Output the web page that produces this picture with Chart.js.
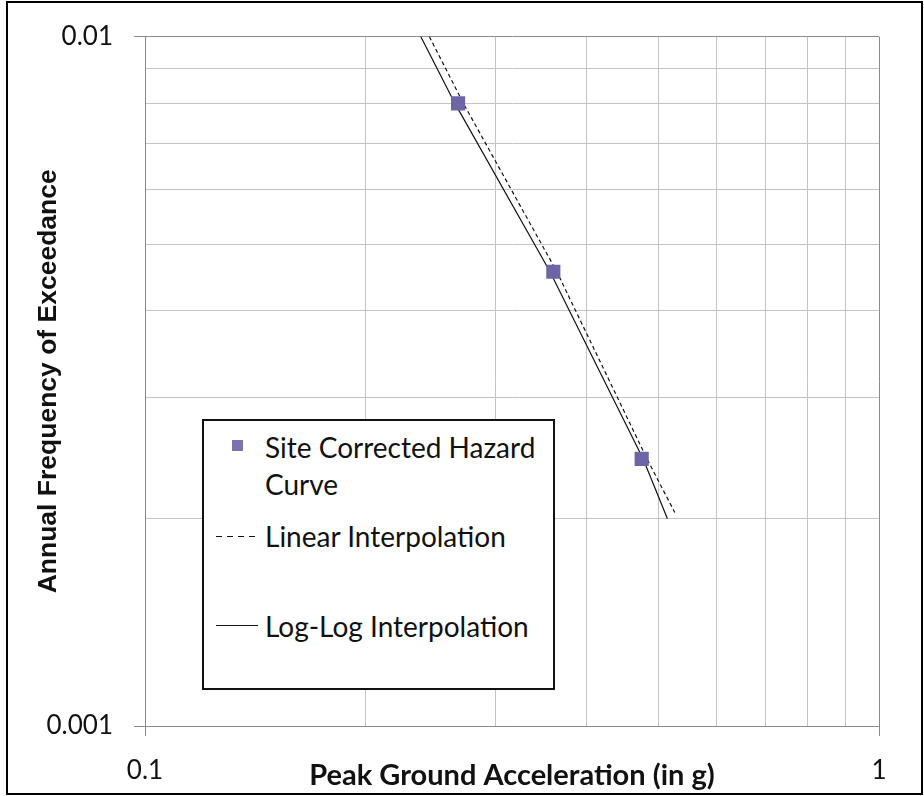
<!DOCTYPE html>
<html>
<head>
<meta charset="utf-8">
<script src="https://cdn.jsdelivr.net/npm/chart.js@4/dist/chart.umd.min.js"></script>
<style>
  html, body { margin: 0; padding: 0; background: #fff; }
  #wrap { position: relative; width: 924px; height: 796px; overflow: hidden; }
  #chart { position: absolute; left: 0; top: 0; }
  #frame { position: absolute; left: 6px; top: 1px; width: 913px; height: 790px; border: 2.5px solid #000; pointer-events: none; }
  #legend { position: absolute; left: 202px; top: 419px; width: 349px; height: 267px; border: 2px solid #111; background: #fff; }
  .lg-text { position: absolute; font-family: Lato, "Open Sans", sans-serif; font-size: 28px; line-height: 36px; color: #111; white-space: nowrap; }
  .lg-mark { position: absolute; width: 11px; height: 11px; background: #7a73b0; }
  .lg-line { position: absolute; width: 42px; height: 1px; }
</style>
</head>
<body>
<div id="wrap">
  <canvas id="chart" width="924" height="796"></canvas>
  <div id="frame"></div>
  <div id="legend"></div>
</div>
<script>
// Site corrected hazard curve points (PGA in g vs annual frequency)
const pga = [0.267, 0.36, 0.475];
const freq = [0.008, 0.00456, 0.00244];

// Linear interpolation (dashed)
const linPga = [0.244, 0.2715, 0.364, 0.483, 0.527];
const linFreq = [0.01, 0.008, 0.00456, 0.00244, 0.00204];

// Log-log interpolation (solid)
const logPga = [0.2375, 0.2644, 0.3563, 0.4772, 0.5148];
const logFreq = [0.01, 0.008, 0.00456, 0.00244, 0.002];

// Grid positions and the decade labels
const xGrid = [0.1, 0.2, 0.3, 0.4, 0.5, 0.6, 0.7, 0.8, 0.9, 1];
const yGrid = [0.001, 0.002, 0.003, 0.004, 0.005, 0.006, 0.007, 0.008, 0.009, 0.01];
const xTickLabels = ['0.1', '1'];
const yTickLabels = ['0.001', '0.01'];
const legendLabels = ['Site Corrected Hazard', 'Curve', 'Linear Interpolation', 'Log-Log Interpolation'];

const MAJOR_GRID = '#8a8a8a';
const MINOR_GRID = '#c4c4c4';
const tickFont = { family: 'Lato, "Open Sans", sans-serif', size: 26 };

function pairs(xs, ys) {
    return xs.map((x, i) => ({ x: x, y: ys[i] }));
}

function labelFor(labels, value) {
    return labels.find(l => Math.abs(parseFloat(l) - value) < value * 1e-6);
}

// Replace the generated log ticks with the plain 1..9 grid
function fixedTicks(values, labels) {
    return function(scale) {
        scale.ticks = values.map(v => ({ value: v, major: !!labelFor(labels, v) }));
    };
}

function tickText(labels) {
    return function(value) {
        return labelFor(labels, value) || '';
    };
}

const gridColor = c => (c.tick && c.tick.major) ? MAJOR_GRID : MINOR_GRID;
const tickMarkColor = c => (c.tick && c.tick.major) ? MAJOR_GRID : 'rgba(0,0,0,0)';

new Chart(document.getElementById('chart'), {
    type: 'scatter',
    data: {
        datasets: [
            {
                label: 'Site Corrected Hazard Curve',
                data: pairs(pga, freq),
                pointStyle: 'rect',
                pointRadius: 10,
                pointHoverRadius: 10,
                backgroundColor: '#6c65a7',
                borderColor: '#6c65a7',
                borderWidth: 0,
                order: 0
            },
            {
                label: 'Linear Interpolation',
                data: pairs(linPga, linFreq),
                showLine: true,
                pointRadius: 0,
                borderColor: '#111',
                borderWidth: 1.2,
                borderDash: [4, 3],
                tension: 0,
                order: 1
            },
            {
                label: 'Log-Log Interpolation',
                data: pairs(logPga, logFreq),
                showLine: true,
                pointRadius: 0,
                borderColor: '#111',
                borderWidth: 1.2,
                tension: 0,
                order: 2
            }
        ]
    },
    options: {
        responsive: false,
        animation: false,
        events: [],
        layout: { padding: { top: 35, right: 45, left: 0, bottom: 0 } },
        plugins: { legend: { display: false }, tooltip: { enabled: false } },
        scales: {
            x: {
                type: 'logarithmic',
                min: 0.1,
                max: 1,
                afterBuildTicks: fixedTicks(xGrid, xTickLabels),
                afterFit: s => { s.height = 70; },
                border: { color: MAJOR_GRID, width: 1 },
                grid: { color: gridColor, tickColor: tickMarkColor, tickLength: 10, lineWidth: 1 },
                ticks: {
                    autoSkip: false,
                    maxRotation: 0,
                    padding: 19,
                    color: '#111',
                    font: tickFont,
                    callback: tickText(xTickLabels)
                },
                title: {
                    display: true,
                    text: 'Peak Ground Acceleration (in g)',
                    color: '#111',
                    font: { family: 'Lato, "Open Sans", sans-serif', size: 29, weight: 'bold' },
                    padding: { top: 0, bottom: 3 }
                }
            },
            y: {
                type: 'logarithmic',
                min: 0.001,
                max: 0.01,
                afterBuildTicks: fixedTicks(yGrid, yTickLabels),
                afterFit: s => { s.width = 145; },
                border: { color: MAJOR_GRID, width: 1 },
                grid: { color: gridColor, tickColor: tickMarkColor, tickLength: 11, lineWidth: 1 },
                ticks: {
                    autoSkip: false,
                    padding: 21,
                    color: '#111',
                    font: tickFont,
                    callback: tickText(yTickLabels)
                },
                title: {
                    display: true,
                    text: 'Annual Frequency of Exceedance',
                    color: '#111',
                    font: { family: '"Liberation Sans", Arial, sans-serif', size: 26.5, weight: 'bold' },
                    padding: { top: 33, bottom: 0 }
                }
            }
        }
    }
});

// Legend box sitting inside the plot, like the original
(function buildLegend() {
    const wrap = document.getElementById('wrap');
    function add(cls, css, text) {
        const el = document.createElement('div');
        el.className = cls;
        Object.assign(el.style, css);
        if (text) el.textContent = text;
        wrap.appendChild(el);
        return el;
    }
    add('lg-mark', { left: '232px', top: '440px' });
    add('lg-text', { left: '265px', top: '429px' }, legendLabels[0]);
    add('lg-text', { left: '265px', top: '466px' }, legendLabels[1]);
    add('lg-line', { left: '216px', top: '536px', background: 'repeating-linear-gradient(to right, #111 0 6px, transparent 6px 11px)' });
    add('lg-text', { left: '265px', top: '518px' }, legendLabels[2]);
    add('lg-line', { left: '216px', top: '625px', background: '#111' });
    add('lg-text', { left: '265px', top: '608px' }, legendLabels[3]);
})();
</script>
</body>
</html>
